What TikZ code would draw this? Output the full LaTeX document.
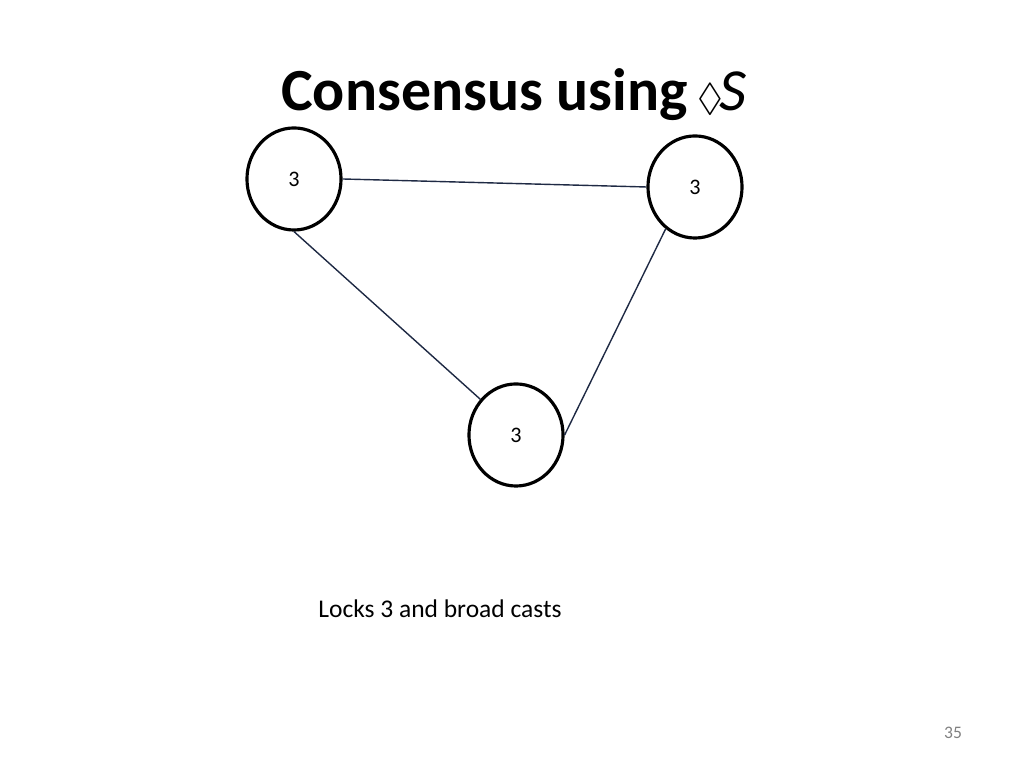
\documentclass[tikz,border=0pt]{standalone}
\usepackage{amsmath, amssymb}
\usepackage{fontspec}
\setmainfont{Carlito}
\usetikzlibrary{shapes.geometric}
\definecolor{edgeblue}{HTML}{1F2A44}
\definecolor{pagegrey}{HTML}{808080}

\begin{document}
\begin{tikzpicture}[x=0.01cm, y=-0.01cm,
            proc/.style={ellipse, draw=black, line width=0.9pt, minimum width=0.94cm,
                         minimum height=1.02cm, inner sep=0pt, font=\fontsize{6.3}{7}\selectfont},
            link/.style={draw=edgeblue, line width=0.4pt}
        ]
            \useasboundingbox (0,0) rectangle (1024,768);

            \node[font=\fontsize{17}{20}\selectfont\bfseries] (title) at (514,95)
                {Consensus using\,{\fontsize{11}{12}\selectfont$\Diamond$}\hspace{-1pt}\textit{\mdseries S}};

            \node[proc] (p1) at (294,179) {3};
            \node[proc] (p2) at (695,187) {3};
            \node[proc] (p3) at (516,435) {3};

            \draw[link] (p1.east) -- (p2.west);
            \draw[link] (p1.south) -- (p3.135);
            \draw[link] (p2.235) -- (p3.east);

            \node[font=\fontsize{7.25}{8}\selectfont] (note) at (440,609) {Locks 3 and broad casts};
            \node[font=\fontsize{5}{6}\selectfont, text=pagegrey] (page) at (953,733) {35};
        \end{tikzpicture}
\end{document}
